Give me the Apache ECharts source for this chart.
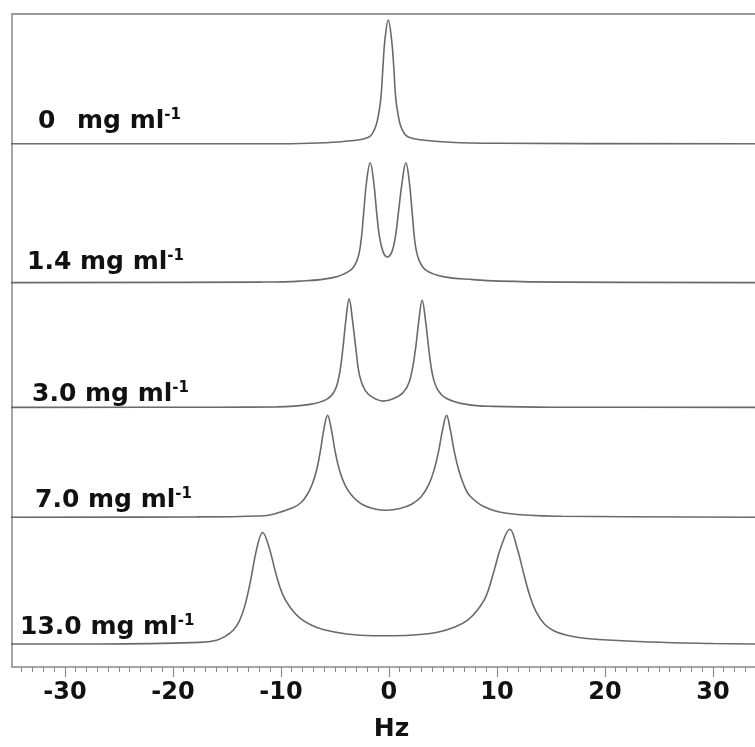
<!DOCTYPE html>
<html>
<head>
<meta charset="utf-8">
<title>Spectra vs concentration</title>
<script src="https://cdn.jsdelivr.net/npm/echarts@6/dist/echarts.min.js"></script>
<style>
    html, body { margin: 0; padding: 0; background: #fff; }
    #main { width: 755px; height: 747px; }
</style>
</head>
<body>
<div id="main"></div>
<script>
// concentrations, top trace first
var concLabels = ['0', '1.4', '3.0', '7.0', '13.0'];
// baseline offset of every trace on the (hidden) y scale
var offsets = [524, 385, 260, 150, 23];
var majorTicks = [-30, -20, -10, 0, 10, 20, 30];

// traces: [Hz, intensity]
var spec0 = [[-35,0],[-12,0],[-8.24,0.3],[-5.19,1.5],[-2.69,4],[-1.9,6.5],[-1.55,10],[-1.2,18],[-0.95,30],[-0.74,46],[-0.55,77],[-0.37,104],
    [-0.06,124],[0.25,104],[0.45,77],[0.63,46],[0.84,30],[1.08,18],[1.45,10],[1.85,6.5],[2.87,4],[5.65,1.5],[10,0.5],[34.5,0]];
var spec1 = [[-35,0],[-12,0.5],[-8.24,1.5],[-5.19,5],[-3.61,12],[-3.0,21],[-2.65,36],[-2.35,68],[-2.08,100],[-1.73,120],
    [-1.4,100],[-1.15,72],[-0.9,48],[-0.55,31],[-0.14,25.7],[0.28,31],[0.63,48],[0.9,72],[1.22,100],[1.57,120],
    [1.9,100],[2.17,68],[2.47,36],[2.85,21],[3.49,12],[5.03,6],[7.81,3],[10.28,1.5],[16,0.5],[34.5,0]];
var spec2 = [[-35,0],[-16,0.2],[-10.4,0.5],[-7.31,3],[-5.77,8],[-5.05,16],[-4.6,32],[-4.25,60],[-3.98,88],[-3.68,108.7],
    [-3.38,88],[-3.07,60],[-2.72,32],[-2.2,17],[-1.5,10],[-0.53,6.3],[0.45,9],[1.32,15],[1.9,26],[2.42,55],
    [2.78,88],[3.08,107.3],[3.38,88],[3.7,58],[4.05,32],[4.55,17],[5.34,9],[7.19,3],[9.66,1],[16,0.2],[34.5,0]];
var spec3 = [[-35,0],[-18,0.3],[-11.94,1.3],[-10.71,3],[-8.86,9.7],[-8.1,15],[-7.55,23],[-7.1,33],[-6.7,47],[-6.35,66],[-6.02,88],[-5.68,102],
    [-5.33,88],[-4.98,66],[-4.55,46],[-4.05,32],[-3.45,22],[-2.5,13],[-1.2,8],[-0.21,7],[1.02,8.7],[2.1,13],[2.95,20],[3.7,33],
    [4.2,48],[4.6,66],[4.98,88],[5.34,102],[5.68,88],[6.05,66],[6.5,46],[6.95,32],[7.45,22],[8.73,11],[10.9,4],[16,1],[34.5,0]];
var spec4 = [[-35,0],[-26.76,0],[-17.5,1.7],[-15.95,3.8],[-15.1,8],[-14.4,14],[-13.85,23],[-13.35,38],[-12.8,64],[-12.25,95],[-11.69,111.7],
    [-11.1,97],[-10.5,72],[-9.85,50],[-9.1,36],[-8.24,26],[-7.2,19],[-6.1,14.5],[-3.92,10],[-1.45,8.3],[0.4,8.3],[2.87,9.5],[4.6,12],[6.1,17],
    [7.3,24],[8.2,34],[9.0,48],[9.7,72],[10.4,98],[11.2,115],[11.85,97],[12.45,72],[13.0,50],[13.6,33],[14.4,20],[15.3,13],[16.4,9],
    [18.31,5.5],[24.17,2],[30.03,0.5],[34.5,0]];
var spectra = [spec0, spec1, spec2, spec3, spec4];

var minorTicks = [];
for (var t = -34; t <= 33; t++) minorTicks.push(t);

var chart = echarts.init(document.getElementById('main'));

var series = spectra.map(function (s, i) {
    return {
        name: concLabels[i] + ' mg ml-1',
        type: 'line',
        data: s.map(function (p) { return [p[0], p[1] + offsets[i]]; }),
        showSymbol: false,
        symbol: 'none',
        smooth: 0.4,
        lineStyle: { color: '#6a6a6a', width: 1.6 },
        silent: true
    };
});

// label placement (left x, text baseline y in px)
var labelPos = [[38, 130], [27, 271], [32, 403], [35, 509], [20, 636]];
var bold = { fontFamily: 'DejaVu Sans', fontWeight: 'bold' };
var graphics = concLabels.map(function (c, i) {
    var rich = {
        n: Object.assign({ fontSize: 25, fill: '#111', lineHeight: 26 }, bold),
        s: Object.assign({ fontSize: 15, fill: '#111', verticalAlign: 'top', lineHeight: 15 }, bold)
    };
    var txt;
    if (c === '0') {
        rich.z = Object.assign({ fontSize: 25, fill: '#111', lineHeight: 26, width: 39 }, bold);
        txt = '{z|0}{n|mg ml}{s|-1}';
    } else {
        txt = '{n|' + c + ' mg ml}{s|-1}';
    }
    return {
        type: 'text',
        x: labelPos[i][0],
        y: labelPos[i][1] - 9,
        style: { text: txt, rich: rich, verticalAlign: 'middle', align: 'left' },
        silent: true
    };
});

var option = {
    animation: false,
    grid: { left: 12, right: 0, top: 14, bottom: 79 },
    xAxis: [
        {
            type: 'value', min: -34.9, max: 33.9, position: 'bottom',
            name: 'Hz', nameLocation: 'middle', nameGap: 50,
            nameTextStyle: { fontFamily: 'DejaVu Sans', fontWeight: 'bold', fontSize: 25, color: '#111', padding: [0, 0, 0, 16] },
            axisLine: { onZero: false, lineStyle: { color: '#8a8a8a', width: 1.5 } },
            axisTick: { customValues: majorTicks, length: 10, lineStyle: { color: '#8a8a8a', width: 1.2 } },
            axisLabel: { customValues: majorTicks, margin: 14, fontFamily: 'DejaVu Sans', fontWeight: 'bold', fontSize: 24, color: '#111' },
            splitLine: { show: false }
        },
        {
            type: 'value', min: -34.9, max: 33.9, position: 'bottom',
            axisLine: { show: false, onZero: false },
            axisTick: { customValues: minorTicks, length: 5, lineStyle: { color: '#8a8a8a', width: 1 } },
            axisLabel: { show: false },
            splitLine: { show: false }
        },
        {
            // plain frame line along the top
            type: 'value', min: -34.9, max: 33.9, position: 'top',
            axisLine: { onZero: false, lineStyle: { color: '#9a9a9a', width: 2 } },
            axisTick: { show: false }, axisLabel: { show: false }, splitLine: { show: false }
        }
    ],
    yAxis: {
        type: 'value', min: 0, max: 654,
        axisLine: { show: true, onZero: false, lineStyle: { color: '#8a8a8a', width: 1.5 } },
        axisTick: { show: false }, axisLabel: { show: false }, splitLine: { show: false }
    },
    series: series,
    graphic: graphics
};

chart.setOption(option);
</script>
</body>
</html>
